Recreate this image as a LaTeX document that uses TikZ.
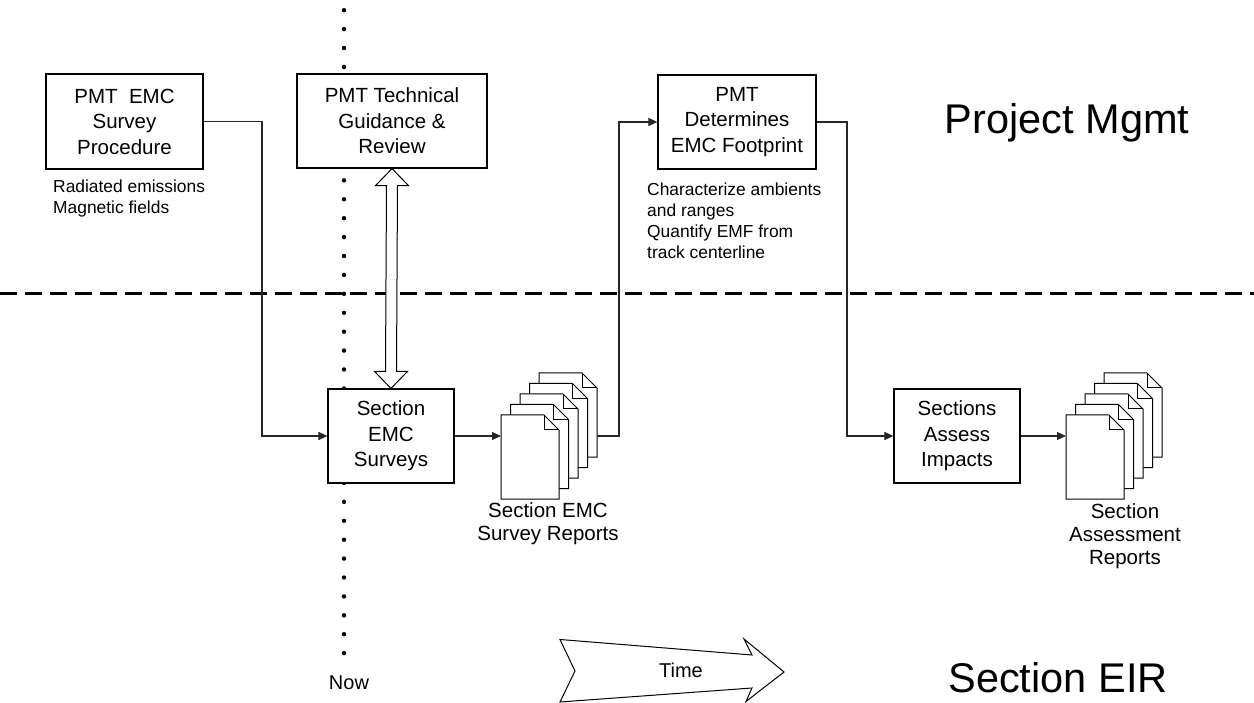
\documentclass[tikz,border=0pt]{standalone}
\usepackage{fontspec}
\setmainfont{Liberation Sans}
\usetikzlibrary{arrows.meta,calc}
\begin{document}
\begin{tikzpicture}[x=1pt,y=-1pt,
  box/.style={draw=black,fill=white,line width=1.2pt,inner sep=0pt,align=center,
     font=\fontsize{20.5}{25.5}\selectfont},
  note/.style={inner sep=0pt,align=left,anchor=north west,font=\fontsize{17.4}{21}\selectfont},
  lbl/.style={inner sep=0pt,align=center,anchor=north,font=\fontsize{20.5}{23.3}\selectfont},
  big/.style={inner sep=0pt,font=\fontsize{41.5}{46}\selectfont},
  arr/.style={line width=1.1pt,draw=black!85,-{Triangle[length=9pt,width=8pt]}},
  doc/.style={draw=black,fill=white,line width=1pt,line join=miter}]
\useasboundingbox (0,0) rectangle (1254,703);
% dotted "now" line
\foreach \i in {0,...,34} \fill (344,10.2+\i*18.91) circle (2.2);
% dashed separator
\draw[line width=3pt,dash pattern=on 17pt off 8pt] (0,294) -- (1254,294);
% boxes
\node[box,minimum width=157,minimum height=95] (b1) at (124.5,121.5) {PMT\ \ EMC\\Survey\\Procedure};
\node[box,minimum width=190,minimum height=94] (b2) at (392,121) {PMT Technical\\Guidance \&\\Review};
\node[box,minimum width=158,minimum height=94] (b3) at (737,122) {PMT\\Determines\\EMC Footprint};
\node[box,minimum width=126,minimum height=94] (b4) at (391,436) {Section\\EMC\\Surveys};
\node[box,minimum width=126,minimum height=94] (b5) at (957,436) {Sections\\Assess\\Impacts};
% notes
\node[note] (n1) at (53,180) {Radiated emissions\\Magnetic fields};
\node[note] (n3) at (647,182.5) {Characterize ambients\\and ranges\\Quantify EMF from\\track centerline};
% document stacks
\foreach \sx in {501,1066}{
  \foreach \k in {4,3,2,1,0}{
    \pgfmathsetmacro\xx{\sx+\k*9.5}
    \pgfmathsetmacro\yy{415-\k*10.5}
    \draw[doc] (\xx,\yy) -- ++(43,0) -- ++(15,15) -- ++(0,69) -- ++(-58,0) -- cycle;
    \draw[doc,fill=none] (\xx+43,\yy) -- ++(0,15) -- ++(15,0);
  }
}
\coordinate (d1in) at (501,436);
\coordinate (d1out) at (597,436);
\coordinate (d2in) at (1066,436);
\node[lbl] (l1) at (548,502) {Section EMC\\Survey Reports};
\node[lbl] (l2) at (1125,503) {Section\\Assessment\\Reports};
% connectors
\coordinate (c1) at (262,121.5);
\coordinate (c2) at (619,436);
\coordinate (c3) at (847,122);
\draw[arr] (b1.east) -- (c1) |- (b4.west);
\draw[arr] (b4.east) -- (d1in);
\draw[arr] (d1out) -- (c2) |- (b3.west);
\draw[arr] (b3.east) -- (c3) |- (b5.west);
\draw[arr] (b5.east) -- (d2in);
% double hollow arrow
\coordinate (ta) at (b2.south);
\coordinate (tb) at (b4.north);
\draw[fill=white,line width=1pt,line join=miter]
  (ta) -- ++(16.5,17) -- ++(-11,0) -- ($(tb)+(5.5,-17)$) -- ++(11,0) -- (tb)
  -- ++(-16.5,-17) -- ++(11,0) -- ($(ta)+(-5.5,17)$) -- ++(-11,0) -- cycle;
% time arrow
\draw[line width=1pt,line join=miter,fill=white] (560,639.5) -- (752,655) -- (744,639) -- (784,672)
  -- (746,701.5) -- (752,688) -- (560,702) -- (575,671) -- cycle;
\node[inner sep=0pt,font=\fontsize{20}{24}\selectfont] (time) at (681,670.5) {Time};
% labels
\node[inner sep=0pt,anchor=base,font=\fontsize{20}{24}\selectfont] (now) at (349,689) {Now};
\node[big,anchor=base] (pm) at (1067,134) {Project Mgmt};
\node[big,anchor=base] (se) at (1058,692) {Section EIR};
\end{tikzpicture}
\end{document}
